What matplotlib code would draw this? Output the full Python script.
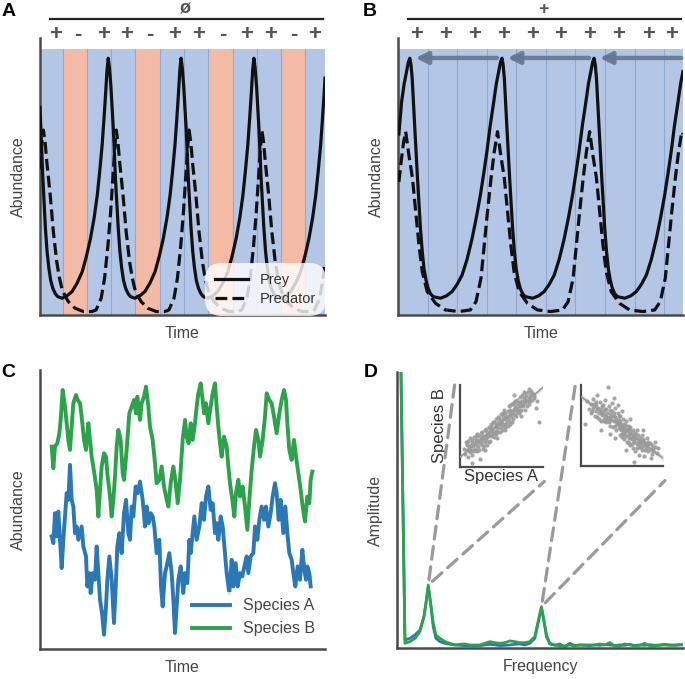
import numpy as np
import matplotlib
matplotlib.use('Agg')
import matplotlib.pyplot as plt
from matplotlib.patches import ConnectionPatch

plt.rcParams['font.family'] = ['Liberation Sans', 'DejaVu Sans']

# --- Panel A: forced predator-prey (bands of +/-) ---
a_signs = ['+', '-', '+', '+', '-', '+', '+', '-', '+', '+', '-', '+']
a_tick_pos = [0.70, 1.62, 2.68, 3.65, 4.60, 5.62, 6.62, 7.58, 8.58, 9.57, 10.53, 11.40]

prey_a_t = [0.07, 0.18, 0.29, 0.36, 0.43, 0.51, 0.60, 0.70, 0.80, 0.98,
            1.18, 1.39, 1.60, 1.81, 1.98, 2.15, 2.30, 2.43, 2.53, 2.63, 2.70, 2.77, 2.83, 2.88,
            2.93, 2.99, 3.09, 3.18, 3.29, 3.36, 3.43, 3.51, 3.60, 3.70, 3.80, 3.98,
            4.18, 4.39, 4.60, 4.81, 4.98, 5.15, 5.30, 5.43, 5.53, 5.63, 5.70, 5.77, 5.83, 5.88,
            5.93, 5.99, 6.09, 6.18, 6.29, 6.36, 6.43, 6.51, 6.60, 6.70, 6.80, 6.98,
            7.18, 7.39, 7.60, 7.81, 7.98, 8.15, 8.30, 8.43, 8.53, 8.63, 8.70, 8.77, 8.83, 8.88,
            8.93, 8.99, 9.09, 9.18, 9.29, 9.36, 9.43, 9.51, 9.60, 9.70, 9.80, 9.98,
            10.18, 10.39, 10.60, 10.81, 10.98, 11.15, 11.30, 11.43, 11.53, 11.63, 11.70, 11.77, 11.81]
prey_a_y = [0.78, 0.53, 0.33, 0.24, 0.18, 0.13, 0.10, 0.08, 0.069, 0.063,
            0.072, 0.088, 0.12, 0.163, 0.22, 0.288, 0.365, 0.451, 0.54, 0.639, 0.73, 0.827, 0.92, 0.965,
            0.93, 0.86, 0.70, 0.51, 0.33, 0.24, 0.18, 0.13, 0.10, 0.08, 0.069, 0.063,
            0.072, 0.088, 0.12, 0.163, 0.22, 0.288, 0.365, 0.451, 0.54, 0.639, 0.73, 0.827, 0.92, 0.965,
            0.93, 0.86, 0.70, 0.51, 0.33, 0.24, 0.18, 0.13, 0.10, 0.08, 0.069, 0.063,
            0.072, 0.088, 0.12, 0.163, 0.22, 0.288, 0.365, 0.451, 0.54, 0.639, 0.73, 0.827, 0.92, 0.965,
            0.93, 0.86, 0.70, 0.51, 0.33, 0.24, 0.18, 0.13, 0.10, 0.08, 0.069, 0.063,
            0.072, 0.088, 0.12, 0.163, 0.22, 0.288, 0.365, 0.451, 0.54, 0.639, 0.73, 0.827, 0.89]

pred_a_t = [0.07, 0.14, 0.21,
            0.28, 0.35, 0.49, 0.62, 0.76, 0.87, 0.97, 1.11, 1.24, 1.52, 1.86, 2.21, 2.38, 2.59, 2.73, 2.87, 2.98, 3.07, 3.14, 3.21,
            3.28, 3.35, 3.49, 3.62, 3.76, 3.87, 3.97, 4.11, 4.24, 4.52, 4.86, 5.21, 5.38, 5.59, 5.73, 5.87, 5.98, 6.07, 6.14, 6.21,
            6.28, 6.35, 6.49, 6.62, 6.76, 6.87, 6.97, 7.11, 7.24, 7.52, 7.86, 8.21, 8.38, 8.59, 8.73, 8.87, 8.98, 9.07, 9.14, 9.21,
            9.28, 9.35, 9.49, 9.62, 9.76, 9.87, 9.97, 10.11, 10.24, 10.52, 10.86, 11.21, 11.38, 11.59, 11.73, 11.81]
pred_a_y = [0.55, 0.64, 0.695,
            0.65, 0.576, 0.451, 0.313, 0.200, 0.14, 0.10, 0.07, 0.05, 0.025, 0.013, 0.013, 0.019, 0.063, 0.138, 0.263, 0.388, 0.514, 0.614, 0.695,
            0.65, 0.576, 0.451, 0.313, 0.200, 0.14, 0.10, 0.07, 0.05, 0.025, 0.013, 0.013, 0.019, 0.063, 0.138, 0.263, 0.388, 0.514, 0.614, 0.695,
            0.65, 0.576, 0.451, 0.313, 0.200, 0.14, 0.10, 0.07, 0.05, 0.025, 0.013, 0.013, 0.019, 0.063, 0.138, 0.263, 0.388, 0.514, 0.614, 0.695,
            0.65, 0.576, 0.451, 0.313, 0.200, 0.14, 0.10, 0.07, 0.05, 0.025, 0.013, 0.013, 0.019, 0.063, 0.138, 0.20]

# --- Panel B: constant + environment ---
b_signs = ['+'] * 10
b_tick_pos = [0.62, 1.61, 2.59, 3.55, 4.53, 5.49, 6.48, 7.46, 8.47, 9.24]
prey_b_peaks = [0.39, 3.51, 6.63, 9.75]

prey_b_t = [0.02, 0.11, 0.20, 0.28, 0.34, 0.39,
            0.43, 0.47, 0.56, 0.65, 0.75, 0.81, 0.87, 0.94, 1.01, 1.09, 1.18, 1.43,
            1.63, 1.82, 1.99, 2.16, 2.33, 2.50, 2.64, 2.78, 2.89, 3.00, 3.11, 3.23, 3.32, 3.40, 3.46, 3.51,
            3.55, 3.59, 3.68, 3.77, 3.87, 3.93, 3.99, 4.06, 4.13, 4.21, 4.30, 4.55,
            4.75, 4.94, 5.11, 5.28, 5.45, 5.62, 5.76, 5.90, 6.01, 6.12, 6.23, 6.35, 6.44, 6.52, 6.58, 6.63,
            6.67, 6.71, 6.80, 6.89, 6.99, 7.05, 7.11, 7.18, 7.25, 7.33, 7.42, 7.67,
            7.87, 8.06, 8.23, 8.40, 8.57, 8.74, 8.88, 9.02, 9.13, 9.24, 9.35, 9.47, 9.56, 9.64]
prey_b_y = [0.68, 0.80, 0.87, 0.915, 0.95, 0.965,
            0.94, 0.89, 0.70, 0.514, 0.326, 0.24, 0.175, 0.13, 0.10, 0.08, 0.069, 0.063,
            0.072, 0.088, 0.115, 0.15, 0.21, 0.288, 0.365, 0.451, 0.53, 0.614, 0.71, 0.80, 0.87, 0.915, 0.95, 0.965,
            0.94, 0.89, 0.70, 0.514, 0.326, 0.24, 0.175, 0.13, 0.10, 0.08, 0.069, 0.063,
            0.072, 0.088, 0.115, 0.15, 0.21, 0.288, 0.365, 0.451, 0.53, 0.614, 0.71, 0.80, 0.87, 0.915, 0.95, 0.965,
            0.94, 0.89, 0.70, 0.514, 0.326, 0.24, 0.175, 0.13, 0.10, 0.08, 0.069, 0.063,
            0.072, 0.088, 0.115, 0.15, 0.21, 0.288, 0.365, 0.451, 0.53, 0.614, 0.71, 0.80, 0.87, 0.915]

pred_b_t = [0.02, 0.10, 0.18, 0.25,
            0.36, 0.48, 0.59, 0.70, 0.81, 0.98, 1.26, 1.60, 2.05, 2.44, 2.63, 2.80, 2.91, 3.02, 3.14, 3.25, 3.36,
            3.47, 3.59, 3.70, 3.81, 3.92, 4.09, 4.37, 4.71, 5.16, 5.56, 5.75, 5.92, 6.03, 6.14, 6.26, 6.37, 6.48,
            6.59, 6.71, 6.82, 6.93, 7.04, 7.21, 7.49, 7.83, 8.28, 8.68, 8.87, 9.04, 9.15, 9.26, 9.38, 9.49, 9.60, 9.64]
pred_b_y = [0.50, 0.58, 0.65, 0.689,
            0.60, 0.514, 0.388, 0.263, 0.163, 0.088, 0.044, 0.019, 0.013, 0.019, 0.05, 0.138, 0.263, 0.388, 0.514, 0.614, 0.689,
            0.60, 0.514, 0.388, 0.263, 0.163, 0.088, 0.044, 0.019, 0.013, 0.019, 0.05, 0.138, 0.263, 0.388, 0.514, 0.614, 0.689,
            0.60, 0.514, 0.388, 0.263, 0.163, 0.088, 0.044, 0.019, 0.013, 0.019, 0.05, 0.138, 0.263, 0.388, 0.514, 0.614, 0.689, 0.68]

# --- Panel C: noisy time series ---
spb_t = [3.5, 4.0, 4.5, 5.2, 5.8, 6.2, 6.8, 7.5, 8.0, 8.5,
         9.0, 9.5, 10.0, 10.8, 11.3, 12.0, 12.5, 13.2, 13.8, 14.5,
         15.0, 15.5, 16.3, 17.0, 17.5, 18.0, 18.5, 19.2, 19.8, 20.2,
         21.0, 21.5, 22.0, 22.5, 23.0, 23.5, 24.2, 24.8, 25.2, 26.0,
         26.8, 27.5, 28.2, 28.8, 29.2, 30.0, 30.5, 31.2, 31.8, 32.5,
         33.0, 33.8, 34.5, 35.0, 35.8, 36.5, 37.2, 38.0, 38.5, 39.2,
         40.0, 40.6, 41.3, 42.0, 42.8, 43.5, 44.0, 44.6, 45.2, 45.8,
         46.5, 47.0, 47.5, 48.2, 48.8, 49.2, 49.8, 50.5, 51.2, 51.8,
         52.5, 53.0, 53.5, 54.0, 54.5, 55.2, 56.0, 56.5, 57.0, 57.7,
         58.3, 58.8, 59.5, 60.0, 60.8, 61.5, 62.2, 62.8, 63.5, 64.2,
         64.8, 65.5, 66.0, 66.8, 67.5, 68.0, 68.8, 69.5, 70.2, 71.0,
         71.8, 72.5, 73.2, 73.8, 74.2, 74.8, 75.5, 76.2, 76.8, 77.5,
         78.2, 78.8, 79.5, 80.2, 80.8, 81.2, 81.7]
spb_v = [60.8, 54.3, 60.8, 61.8, 64.8, 68.8, 77.8, 72.8, 67.8, 62.8,
         59.8, 66.8, 73.8, 76.3, 74.8, 73.8, 69.8, 62.8, 59.8, 67.8,
         62.8, 57.8, 52.8, 47.8, 39.8, 47.8, 54.8, 58.8, 57.8, 52.8,
         45.8, 39.8, 44.8, 51.8, 60.8, 65.8, 62.8, 52.8, 50.8, 59.8,
         70.8, 72.8, 74.8, 70.8, 75.8, 68.8, 73.8, 75.8, 78.8, 72.8,
         66.8, 62.8, 55.8, 49.8, 50.8, 54.8, 48.8, 44.8, 42.8, 49.8,
         54.8, 50.8, 43.8, 50.8, 62.8, 68.8, 63.8, 61.8, 67.8, 62.8,
         67.8, 72.8, 76.8, 79.8, 74.8, 70.8, 73.8, 67.8, 72.8, 76.8,
         79.8, 72.8, 66.8, 61.8, 57.8, 63.8, 60.8, 54.8, 49.8, 44.8,
         39.8, 46.8, 50.8, 45.8, 48.8, 42.8, 35.8, 44.8, 53.8, 60.8,
         65.8, 62.8, 57.8, 62.8, 69.8, 76.8, 74.8, 73.8, 69.8, 64.8,
         70.8, 74.8, 77.8, 74.8, 67.8, 59.8, 56.8, 62.8, 57.8, 52.8,
         47.8, 42.8, 38.3, 45.8, 43.8, 50.8, 53.3]

spa_t = [3.5, 4.0, 4.5, 5.0, 5.5, 6.0, 6.5, 7.0, 7.5, 8.0,
         8.5, 9.0, 9.5, 10.0, 10.5, 11.0, 11.5, 12.0, 12.5, 13.0,
         13.8, 14.2, 14.8, 15.2, 15.8, 16.5, 17.0, 17.5, 18.0, 18.6,
         19.2, 19.8, 20.2, 20.8, 21.5, 22.2, 22.8, 23.2, 23.8, 24.5,
         25.2, 25.8, 26.5, 27.0, 27.5, 28.0, 28.7, 29.3, 30.0, 30.8,
         31.5, 32.0, 32.6, 33.2, 33.8, 34.3, 35.0, 35.8, 36.3, 36.8,
         37.5, 38.0, 38.8, 39.5, 40.0, 40.5, 41.0, 41.5, 42.2, 43.0,
         43.5, 44.2, 44.8, 45.2, 45.8, 46.3, 47.0, 47.8, 48.5, 49.2,
         49.8, 50.5, 51.2, 51.8, 52.5, 53.0, 53.5, 54.2, 54.8, 55.5,
         56.0, 56.8, 57.5, 58.0, 58.7, 59.3, 60.0, 60.7, 61.3, 62.0,
         62.5, 63.2, 64.0, 64.5, 65.2, 65.8, 66.5, 67.2, 67.8, 68.5,
         69.2, 69.8, 70.5, 71.0, 71.6, 72.2, 73.0, 73.6, 74.2, 74.8,
         75.5, 76.0, 76.6, 77.3, 78.0, 78.7, 79.3, 79.8, 80.2, 80.8,
         81.2]
spa_v = [33.8, 31.8, 40.8, 33.8, 41.3, 32.8, 24.3, 32.8, 39.8, 46.8,
         44.8, 55.3, 44.8, 42.8, 34.8, 36.8, 32.8, 34.8, 36.8, 30.8,
         27.8, 18.8, 22.8, 16.8, 22.8, 20.8, 30.8, 22.8, 14.8, 10.8,
         4.3, 12.8, 20.8, 27.8, 20.8, 7.8, 20.8, 30.8, 34.8, 28.8,
         40.8, 44.8, 34.8, 32.8, 42.8, 39.8, 48.8, 46.8, 50.3, 44.8,
         36.8, 42.8, 37.8, 40.8, 39.8, 36.8, 28.8, 32.8, 18.8, 12.8,
         22.8, 24.8, 28.8, 22.8, 14.8, 4.8, 12.8, 20.8, 24.8, 16.8,
         22.8, 19.8, 32.8, 28.8, 34.8, 39.8, 32.8, 36.8, 43.8, 38.8,
         45.8, 48.8, 41.8, 43.8, 34.8, 37.8, 32.8, 39.8, 36.8, 28.8,
         22.8, 16.8, 26.8, 18.8, 25.8, 18.8, 22.8, 21.8, 24.8, 27.8,
         22.8, 27.8, 28.8, 36.8, 32.8, 38.8, 42.8, 38.8, 42.8, 36.8,
         40.8, 45.8, 49.8, 46.8, 38.8, 44.8, 34.8, 42.8, 34.8, 28.8,
         26.8, 22.8, 18.8, 24.8, 20.8, 29.8, 23.8, 20.8, 24.8, 22.8,
         18.8]

# --- Panel D: spectrum ---
freq = [1.1, 2.3, 3.8, 5.3, 6.8, 8.0, 8.6, 9.3, 10.0, 10.8,
        11.6, 12.8, 14.3, 15.8, 17.3, 18.8, 20.3, 21.8, 23.3, 24.8,
        26.3, 27.8, 29.3, 30.8, 32.3, 33.8, 35.3, 36.8, 38.3, 39.8,
        41.3, 42.6, 43.3, 44.0, 44.8, 45.8, 47.3, 48.8, 50.3, 51.8,
        53.3, 54.8, 56.3, 57.8, 59.3, 60.8, 62.3, 63.8, 65.3, 66.8,
        68.3, 69.8, 71.3, 72.8, 74.3, 75.8, 77.3, 78.8, 80.3, 81.8,
        83.3, 84.8, 85.8]
amp_b = [82.5, 1.5, 2.0, 3.0, 5.0, 9.5, 13.5, 19.0, 13.5, 7.5,
         4.0, 3.0, 2.0, 1.5, 1.0, 1.2, 1.3, 1.0, 1.0, 1.0,
         1.5, 2.0, 1.7, 1.5, 1.7, 2.2, 2.0, 1.7, 1.7, 2.0,
         3.5, 9.5, 12.5, 8.5, 4.0, 1.5, 1.0, 0.7, 0.7, 1.0,
         0.7, 1.0, 1.0, 1.0, 1.0, 1.3, 1.0, 1.7, 0.7, 0.7,
         1.3, 1.0, 0.7, 0.9, 1.5, 0.7, 0.7, 0.9, 1.0, 0.9,
         1.0, 1.1, 1.1]
amp_a = [83.0, 2.5, 3.0, 4.0, 5.5, 9.5, 13.5, 18.5, 13.5, 6.5,
         3.0, 2.0, 1.5, 1.2, 1.0, 0.9, 0.8, 0.8, 0.7, 0.8,
         1.0, 1.2, 1.0, 0.8, 0.9, 1.0, 1.2, 1.3, 1.0, 1.5,
         3.0, 9.0, 12.0, 8.5, 3.5, 1.3, 0.9, 1.3, 0.5, 1.5,
         0.8, 1.0, 0.9, 0.8, 1.0, 0.9, 1.1, 1.0, 0.8, 1.0,
         0.9, 1.2, 0.8, 1.0, 0.9, 1.1, 0.9, 1.0, 1.2, 1.0,
         0.9, 1.0, 1.0]

# inset scatter 1 (positive) and 2 (negative), normalised units
sc1_x = [0.05, 0.06, 0.07, 0.08, 0.09, 0.10, 0.10, 0.11, 0.12, 0.12,
         0.13, 0.14, 0.15, 0.15, 0.16, 0.17, 0.18, 0.18, 0.19, 0.20,
         0.20, 0.21, 0.22, 0.22, 0.23, 0.24, 0.24, 0.25, 0.26, 0.26,
         0.27, 0.28, 0.28, 0.29, 0.30, 0.30, 0.31, 0.32, 0.33, 0.33,
         0.34, 0.35, 0.35, 0.36, 0.37, 0.38, 0.38, 0.39, 0.40, 0.40,
         0.41, 0.42, 0.43, 0.43, 0.44, 0.45, 0.46, 0.46, 0.47, 0.48,
         0.48, 0.49, 0.50, 0.50, 0.51, 0.52, 0.53, 0.53, 0.54, 0.55,
         0.55, 0.56, 0.57, 0.58, 0.58, 0.59, 0.60, 0.60, 0.61, 0.62,
         0.63, 0.63, 0.64, 0.65, 0.66, 0.66, 0.67, 0.68, 0.69, 0.70,
         0.70, 0.71, 0.72, 0.72, 0.73, 0.74, 0.75, 0.75, 0.76, 0.77,
         0.78, 0.78, 0.79, 0.80, 0.81, 0.82, 0.83, 0.84, 0.85, 0.86,
         0.87, 0.88, 0.90, 0.92, 0.93, 0.30, 0.45, 0.15, 0.65, 0.95,
         0.08, 0.11, 0.14, 0.17, 0.19, 0.21, 0.23, 0.25, 0.27, 0.29,
         0.31, 0.33, 0.35, 0.37, 0.39, 0.41, 0.43, 0.45, 0.47, 0.49,
         0.51, 0.53, 0.55, 0.57, 0.59, 0.61, 0.63, 0.65, 0.67, 0.69,
         0.71, 0.73, 0.75, 0.77, 0.79, 0.81, 0.83, 0.85, 0.87, 0.89,
         0.36, 0.42, 0.52, 0.58, 0.62, 0.68, 0.74, 0.44, 0.54, 0.64]
sc1_y = [0.22, 0.15, 0.30, 0.20, 0.26, 0.12, 0.31, 0.24, 0.18, 0.35,
         0.27, 0.21, 0.30, 0.14, 0.25, 0.36, 0.22, 0.29, 0.33, 0.19,
         0.40, 0.27, 0.31, 0.24, 0.37, 0.10, 0.29, 0.34, 0.26, 0.42,
         0.31, 0.38, 0.22, 0.35, 0.45, 0.30, 0.39, 0.33, 0.42, 0.26,
         0.37, 0.48, 0.40, 0.32, 0.44, 0.38, 0.52, 0.46, 0.41, 0.55,
         0.36, 0.49, 0.44, 0.58, 0.40, 0.51, 0.47, 0.61, 0.55, 0.42,
         0.52, 0.65, 0.57, 0.48, 0.54, 0.62, 0.50, 0.70, 0.58, 0.66,
         0.45, 0.61, 0.55, 0.68, 0.60, 0.74, 0.64, 0.52, 0.70, 0.61,
         0.77, 0.66, 0.58, 0.71, 0.80, 0.65, 0.74, 0.62, 0.82, 0.70,
         0.77, 0.66, 0.85, 0.74, 0.79, 0.70, 0.88, 0.81, 0.74, 0.84,
         0.90, 0.78, 0.70, 0.86, 0.80, 0.92, 0.84, 0.77, 0.88, 0.93,
         0.82, 0.89, 0.86, 0.72, 0.80, 0.20, 0.35, 0.05, 0.88, 0.55,
         0.28, 0.20, 0.33, 0.19, 0.38, 0.33, 0.20, 0.41, 0.36, 0.25,
         0.46, 0.36, 0.30, 0.50, 0.39, 0.55, 0.50, 0.43, 0.60, 0.53,
         0.45, 0.60, 0.52, 0.62, 0.56, 0.75, 0.55, 0.63, 0.79, 0.68,
         0.78, 0.68, 0.75, 0.92, 0.82, 0.74, 0.95, 0.80, 0.90, 0.84,
         0.46, 0.42, 0.66, 0.50, 0.68, 0.72, 0.62, 0.54, 0.48, 0.78]

sc2_x = [0.05, 0.08, 0.10, 0.12, 0.13, 0.15, 0.15, 0.17, 0.18, 0.19,
         0.20, 0.20, 0.21, 0.22, 0.23, 0.24, 0.25, 0.26, 0.27, 0.28,
         0.28, 0.29, 0.30, 0.31, 0.31, 0.32, 0.33, 0.33, 0.34, 0.35,
         0.35, 0.36, 0.37, 0.38, 0.38, 0.39, 0.40, 0.40, 0.41, 0.42,
         0.43, 0.43, 0.44, 0.45, 0.46, 0.46, 0.47, 0.48, 0.48, 0.49,
         0.50, 0.50, 0.51, 0.52, 0.53, 0.53, 0.54, 0.55, 0.55, 0.56,
         0.57, 0.57, 0.58, 0.59, 0.60, 0.60, 0.61, 0.62, 0.63, 0.63,
         0.64, 0.65, 0.66, 0.66, 0.67, 0.68, 0.69, 0.70, 0.70, 0.71,
         0.72, 0.73, 0.74, 0.75, 0.76, 0.77, 0.78, 0.79, 0.80, 0.81,
         0.82, 0.84, 0.85, 0.86, 0.88, 0.90, 0.92, 0.94, 0.50, 0.60,
         0.35, 0.75, 0.45, 0.25, 0.65, 0.55, 0.40, 0.58, 0.68, 0.42,
         0.14, 0.18, 0.22, 0.26, 0.30, 0.34, 0.38, 0.42, 0.46, 0.50,
         0.54, 0.58, 0.62, 0.66, 0.70, 0.74, 0.78, 0.82, 0.86, 0.90,
         0.16, 0.24, 0.32, 0.36, 0.44, 0.48, 0.52, 0.56, 0.60, 0.64,
         0.68, 0.72, 0.76, 0.80, 0.84, 0.88, 0.28, 0.40, 0.47, 0.53,
         0.57, 0.61, 0.65, 0.69, 0.73, 0.77, 0.45, 0.51, 0.59, 0.63]
sc2_y = [0.52, 0.80, 0.70, 0.77, 0.66, 0.83, 0.72, 0.62, 0.75, 0.68,
         0.88, 0.60, 0.72, 0.65, 0.79, 0.55, 0.70, 0.63, 0.75, 0.58,
         0.68, 0.82, 0.62, 0.54, 0.70, 0.66, 0.97, 0.58, 0.74, 0.50,
         0.64, 0.69, 0.57, 0.78, 0.62, 0.48, 0.66, 0.55, 0.60, 0.72,
         0.44, 0.58, 0.52, 0.65, 0.47, 0.57, 0.38, 0.54, 0.62, 0.45,
         0.51, 0.40, 0.58, 0.47, 0.33, 0.52, 0.43, 0.56, 0.37, 0.46,
         0.30, 0.50, 0.41, 0.35, 0.48, 0.26, 0.40, 0.33, 0.44, 0.22,
         0.37, 0.30, 0.41, 0.18, 0.34, 0.27, 0.38, 0.31, 0.14, 0.24,
         0.35, 0.28, 0.20, 0.32, 0.25, 0.12, 0.29, 0.22, 0.34, 0.18,
         0.27, 0.21, 0.10, 0.26, 0.19, 0.30, 0.16, 0.22, 0.68, 0.58,
         0.40, 0.45, 0.75, 0.45, 0.05, 0.20, 0.84, 0.28, 0.45, 0.35,
         0.68, 0.79, 0.58, 0.74, 0.70, 0.54, 0.68, 0.50, 0.62, 0.36,
         0.51, 0.47, 0.27, 0.40, 0.26, 0.38, 0.20, 0.30, 0.15, 0.24,
         0.77, 0.66, 0.59, 0.60, 0.56, 0.48, 0.41, 0.30, 0.43, 0.31,
         0.22, 0.30, 0.33, 0.25, 0.29, 0.22, 0.55, 0.62, 0.52, 0.40,
         0.44, 0.35, 0.34, 0.30, 0.24, 0.30, 0.55, 0.45, 0.38, 0.40]

# colours
BLUE_BAND = '#b4c6e5'
RED_BAND = '#f3bba6'
EDGE = '#8ea9d6'
SPINE = '#4a4a4a'
TXT = '#444444'
C_A = '#2a78b6'
C_B = '#2ca34a'
GRAY = '#9b9b9b'

fig = plt.figure(figsize=(6.85, 6.79), dpi=100)


def style_axes(ax):
    for s in ['top', 'right']:
        ax.spines[s].set_visible(False)
    for s in ['left', 'bottom']:
        ax.spines[s].set_color(SPINE)
        ax.spines[s].set_linewidth(1.8)
    ax.set_yticks([])


def band_panel(ax, signs, tick_pos, xmax, header):
    shade_top = 266 / 277
    for k, sg in enumerate(signs):
        ax.axvspan(k, k + 1, ymin=0, ymax=shade_top,
                   color=BLUE_BAND if sg == '+' else RED_BAND, lw=0, zorder=0)
        if k > 0:
            ax.axvline(k, ymin=0, ymax=shade_top, color=EDGE, lw=0.8, zorder=0.5)
    ax.set_xlim(0.0 if xmax < 10 else 0.07, xmax)
    ax.set_ylim(0, 1.041)
    style_axes(ax)
    ax.xaxis.tick_top()
    ax.set_xticks(tick_pos)
    ax.set_xticklabels(signs, fontweight='bold', fontsize=16, color='#555555')
    ax.tick_params(axis='x', length=0, pad=-5)
    ax.xaxis.set_label_position('bottom')
    ax.set_xlabel('Time', fontsize=11.5, color=TXT, labelpad=8)
    ax.set_ylabel('Abundance', fontsize=11.5, color=TXT, labelpad=10)
    ax.plot([0.035, 0.992], [1.069, 1.069], transform=ax.transAxes,
            color='#222222', lw=1.6, clip_on=False)
    ax.text(0.51, 1.104, header, transform=ax.transAxes, ha='center', va='center',
            fontsize=13, fontweight='bold', color='#555555')


# Panel A
axA = fig.add_axes([40 / 685, 1 - 315 / 679, 285 / 685, 277 / 679])
band_panel(axA, a_signs, a_tick_pos, 11.81, 'ø')
axA.plot(prey_a_t, prey_a_y, color='#111111', lw=2.3, label='Prey', zorder=3)
axA.plot(pred_a_t, pred_a_y, color='#111111', lw=2.3, ls='--', label='Predator', zorder=3)
legA = axA.legend(loc='lower right', bbox_to_anchor=(1.0, 0.0), fontsize=10.5,
                  frameon=True, framealpha=0.8, facecolor='white', edgecolor='none',
                  handlelength=2.3, labelspacing=0.35, borderaxespad=0.2, fancybox=True)
legA.get_frame().set_boxstyle('round,pad=0.3,rounding_size=1.2')
for t in legA.get_texts():
    t.set_color('#333333')

# Panel B
axB = fig.add_axes([398.3 / 685, 1 - 315 / 679, 284.7 / 685, 277 / 679])
band_panel(axB, b_signs, b_tick_pos, 9.64, '+')
axB.plot(prey_b_t, prey_b_y, color='#111111', lw=2.3, zorder=3)
axB.plot(pred_b_t, pred_b_y, color='#111111', lw=2.3, ls='--', zorder=3)
for p0, p1 in zip(prey_b_peaks[:-1], prey_b_peaks[1:]):
    axB.annotate('', xy=(p0 + 0.19, 0.966), xytext=(p1 - 0.17, 0.966),
                 arrowprops=dict(arrowstyle='-|>,head_length=0.7,head_width=0.35',
                                 color='#66778f', lw=3.2, shrinkA=0, shrinkB=0, alpha=0.9),
                 zorder=4, annotation_clip=False)

# Panel C
axC = fig.add_axes([40 / 685, 1 - 649 / 679, 285 / 685, 279 / 679])
style_axes(axC)
axC.set_xticks([])
axC.plot(spa_t, spa_v, color=C_A, lw=2.8, label='Species A')
axC.plot(spb_t, spb_v, color=C_B, lw=2.8, label='Species B')
axC.set_xlim(0, 85.5)
axC.set_ylim(0, 83.8)
axC.set_xlabel('Time', fontsize=11.5, color=TXT, labelpad=8)
axC.set_ylabel('Abundance', fontsize=11.5, color=TXT, labelpad=10)
legC = axC.legend(loc='lower right', bbox_to_anchor=(1.01, 0.0), fontsize=11.5,
                  frameon=True, framealpha=0.8, facecolor='white', edgecolor='none',
                  handlelength=2.4, borderaxespad=0.4)
for t in legC.get_texts():
    t.set_color(TXT)

# Panel D
axD = fig.add_axes([397.3 / 685, 1 - 648.3 / 679, 285.7 / 685, 276.6 / 679])
style_axes(axD)
axD.set_xticks([])
axD.plot(freq, amp_a, color=C_A, lw=2.0)
axD.plot(freq, amp_b, color=C_B, lw=2.0)
axD.set_xlim(0, 85.8)
axD.set_ylim(0, 83)
axD.set_xlabel('Frequency', fontsize=11.5, color=TXT, labelpad=8)
axD.set_ylabel('Amplitude', fontsize=11.5, color=TXT, labelpad=10)


def scatter_inset(rect, xs, ys):
    ins = fig.add_axes(rect)
    style_axes(ins)
    ins.set_xticks([])
    ins.patch.set_alpha(0)
    for s in ['left', 'bottom']:
        ins.spines[s].set_linewidth(1.6)
    xs = np.array(xs)
    ys = np.array(ys)
    ins.scatter(xs, ys, s=9, color=GRAY, alpha=0.9, linewidths=0, zorder=2)
    k, b = np.polyfit(xs, ys, 1)
    res = ys - (k * xs + b)
    sd = np.sqrt(np.sum(res ** 2) / (len(xs) - 2))
    xx = np.linspace(0, 1, 50)
    se = sd * np.sqrt(1 / len(xs) + (xx - xs.mean()) ** 2 / np.sum((xs - xs.mean()) ** 2))
    ins.fill_between(xx, k * xx + b - 1.96 * se, k * xx + b + 1.96 * se,
                     color='#bbbbbb', alpha=0.35, lw=0, zorder=1)
    ins.plot(xx, k * xx + b, color='#999999', lw=1.2, zorder=3)
    ins.set_xlim(0, 1)
    ins.set_ylim(0, 1)
    return ins


ins1 = scatter_inset([460 / 685, 1 - 466.7 / 679, 82.7 / 685, 81.7 / 679], sc1_x, sc1_y)
ins1.set_xlabel('Species A', fontsize=12, color='#333333', labelpad=2)
ins1.set_ylabel('Species B', fontsize=12, color='#333333', labelpad=9)
ins2 = scatter_inset([580.7 / 685, 1 - 466 / 679, 82.6 / 685, 81 / 679], sc2_x, sc2_y)

# dashed connectors from spectral peaks to the insets
fa = np.array(freq)
gb = np.array(amp_b)
i1 = int(np.argmax(np.where((fa > 5) & (fa < 20), gb, 0)))
i2 = int(np.argmax(np.where((fa > 30) & (fa < 55), gb, 0)))
for idx, ins in [(i1, ins1), (i2, ins2)]:
    for xyb in [(-0.065, 1.0), (1.02, -0.18)]:
        con = ConnectionPatch(xyA=(freq[idx], amp_b[idx]), coordsA=axD.transData,
                              xyB=xyb, coordsB=ins.transAxes, color='#9a9a9a', lw=2.3,
                              linestyle=(0, (4, 2.4)), shrinkA=4, shrinkB=0, zorder=1)
        fig.add_artist(con)

# panel letters
for lbl, x, y in [('A', 8.3, 11.7), ('B', 370, 11.7), ('C', 8.3, 372.5), ('D', 371, 372.5)]:
    fig.text(x / 685, 1 - y / 679, lbl, fontsize=14, fontweight='bold',
             ha='center', va='center', color='black')

fig.savefig('out.png', dpi=100)
